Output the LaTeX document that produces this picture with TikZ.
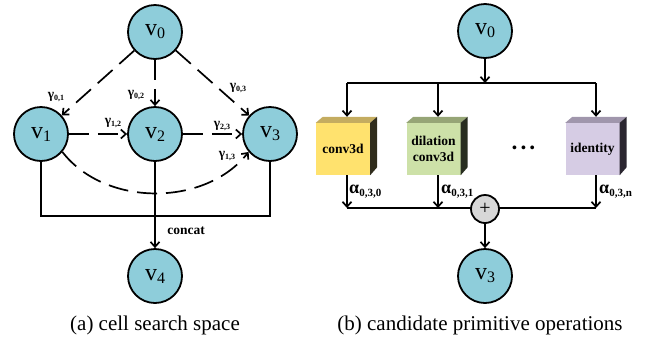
\documentclass[tikz,border=0pt]{standalone}
\usepackage{fontspec}
\setmainfont{Liberation Serif}
\usetikzlibrary{arrows.meta,calc}
\definecolor{nodeblue}{RGB}{142,205,218}
\definecolor{yfront}{RGB}{255,226,110}
\definecolor{ytop}{RGB}{196,172,96}
\definecolor{yside}{RGB}{48,44,28}
\definecolor{gfront}{RGB}{205,225,168}
\definecolor{gtop}{RGB}{150,165,118}
\definecolor{gside}{RGB}{40,45,32}
\definecolor{pfront}{RGB}{214,204,228}
\definecolor{ptop}{RGB}{160,150,172}
\definecolor{pside}{RGB}{42,38,48}
\definecolor{plusgray}{RGB}{215,215,215}
\newcommand{\vlab}[1]{\fontsize{24}{24}\selectfont v\raisebox{-3pt}{\fontsize{16}{16}\selectfont #1}}
\newcommand{\glab}[1]{\fontsize{13.5}{13.5}\selectfont\bfseries γ\raisebox{-2pt}{\fontsize{8}{8}\selectfont #1}}
\newcommand{\alab}[1]{\fontsize{18}{18}\selectfont\bfseries α\raisebox{-3pt}{\fontsize{11}{11}\selectfont #1}}
\tikzset{
  vnode/.style={circle, draw=black, line width=1.8pt, fill=nodeblue, minimum size=54pt, inner sep=0pt},
  conn/.style={line width=1.7pt},
  arr/.style={conn, -{Straight Barb[length=5pt,width=9pt,line width=1.7pt]}},
  dsh/.style={dash pattern=on 20pt off 9pt},
  lab/.style={inner sep=0pt},
  opface/.style={rectangle, minimum width=54pt, minimum height=52pt, inner sep=0pt, align=center,
     font=\fontsize{13.5}{16}\selectfont\bfseries},
}
\begin{document}
\begin{tikzpicture}[x=1pt,y=-1pt]
\useasboundingbox (0,0) rectangle (652,341);
% ---------- (a) ----------
\node[vnode] (v0) at (155,32) {\vlab{0}};
\node[vnode] (v1) at (41,134) {\vlab{1}};
\node[vnode] (v2) at (155,134) {\vlab{2}};
\node[vnode] (v3) at (270,134) {\vlab{3}};
\node[vnode] (v4) at (155,276) {\vlab{4}};
\coordinate (bot) at (155,216);
\draw[conn] (v1.south) |- (bot) -| (v3.south);
\draw[arr] (v2) -- (v4);
\draw[arr,dsh] (v0) -- (v1);
\draw[arr,dsh] (v0) -- (v2);
\draw[arr,dsh] (v0) -- (v3);
\draw[arr,dsh] (v1) -- (v2);
\draw[arr,dsh] (v2) -- (v3);
\draw[arr,dsh] (v1.-40) .. controls (105,207) and (205,207) .. (v3.-140);
\node[lab] (g01) at (56,97) {\glab{0,1}};
\node[lab] (g02) at (136,95) {\glab{0,2}};
\node[lab] (g03) at (238,88) {\glab{0,3}};
\node[lab] (g12) at (113,123) {\glab{1,2}};
\node[lab] (g23) at (222,126) {\glab{2,3}};
\node[lab] (g13) at (227,156) {\glab{1,3}};
\node[lab,font=\fontsize{13.5}{13.5}\selectfont\bfseries] (concat) at (186,231) {concat};
\node[lab,font=\fontsize{21}{21}\selectfont] (capa) at (155,325) {(a) cell search space};
% ---------- (b) ----------
\node[vnode] (r0) at (485,31) {\vlab{0}};
\node[vnode] (r3) at (485,276) {\vlab{3}};
\node[opface,fill=yfront] (c0) at (343,149) {conv3d};
\node[opface,fill=gfront] (c1) at (433.5,149) {dilation\\conv3d};
\node[opface,fill=pfront] (c2) at (592.5,149) {identity};
\foreach \c/\t/\s in {c0/ytop/yside, c1/gtop/gside, c2/ptop/pside}{
  \fill[\t] (\c.north west) -- ++(7,-6) -- ($(\c.north east)+(7,-6)$) -- (\c.north east) -- cycle;
  \fill[\s] (\c.north east) -- ++(7,-6) -- ($(\c.south east)+(7,-8)$) -- (\c.south east) -- cycle;
}
\coordinate (tm) at (485,83);
\coordinate (t0) at (347,83);
\coordinate (t1) at (438,83);
\coordinate (t2) at (596,83);
\coordinate (b0) at (347,208);
\coordinate (b1) at (438,208);
\coordinate (b2) at (596,208);
\draw[conn] (t0) -- (t2);
\draw[arr] (r0) -- (tm);
\draw[arr] (t0) -- ($(t0|-c0.north)+(0,-6)$);
\draw[arr] (t1) -- ($(t1|-c1.north)+(0,-6)$);
\draw[arr] (t2) -- ($(t2|-c2.north)+(0,-6)$);
\draw[arr] (b0|-c0.south) -- (b0);
\draw[arr] (b1|-c1.south) -- (b1);
\draw[arr] (b2|-c2.south) -- (b2);
\draw[conn] (b0) -- (b2);
\node[circle, draw=black, line width=1.8pt, fill=plusgray, minimum size=28pt, inner sep=0pt,
      font=\fontsize{20}{20}\selectfont] (plus) at (485,209) {+};
\draw[arr] (plus) -- (r3);
\node[lab,font=\fontsize{14}{14}\selectfont\bfseries] (dots) at (523.5,149) {•\hspace{4pt}•\hspace{4pt}•};
\node[lab,anchor=west] (a0) at (349,192) {\alab{0,3,0}};
\node[lab,anchor=west] (a1) at (441,192) {\alab{0,3,1}};
\node[lab,anchor=west] (a2) at (599,192) {\alab{0,3,n}};
\node[lab,font=\fontsize{21}{21}\selectfont] (capb) at (480,325) {(b) candidate primitive operations};
\end{tikzpicture}
\end{document}
